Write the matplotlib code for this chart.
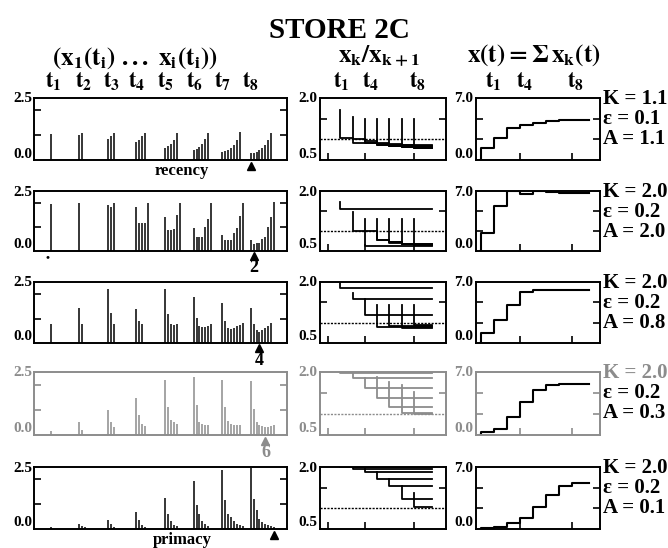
import matplotlib
matplotlib.use("Agg")
import matplotlib.pyplot as plt
import matplotlib.transforms as mtransforms

plt.rcParams['font.family'] = ['Liberation Serif', 'DejaVu Serif']
plt.rcParams['font.weight'] = 'bold'
plt.rcParams['mathtext.fontset'] = 'stix'

W, H = 668, 548

# ---------------- data ----------------
times = [1, 2, 3, 4, 5, 6, 7, 8]
t_labels_col1 = [r"$\mathbf{t_%d}$" % i for i in times]
t_labels_small = [(1, r"$\mathbf{t_1}$"), (4, r"$\mathbf{t_4}$"), (8, r"$\mathbf{t_8}$")]
K_labels = ["1.1", "2.0", "2.0", "2.0", "2.0"]
eps_labels = ["0.1", "0.2", "0.2", "0.2", "0.2"]
A_labels = ["1.1", "2.0", "0.8", "0.3", "0.1"]
row_notes = ["recency", "", "", "", "primacy"]
min_labels = ["", "2", "4", "6", ""]

# column 1: activities x_1..x_i at each presentation time (one group per t_i)
bars_r1 = [[1.05], [1.02, 1.07], [0.85, 0.95, 1.07], [0.72, 0.8, 0.95, 1.1],
           [0.5, 0.55, 0.65, 0.8, 1.07], [0.4, 0.45, 0.53, 0.65, 0.85, 1.1],
           [0.33, 0.36, 0.42, 0.5, 0.62, 0.8, 1.12],
           [0.27, 0.3, 0.34, 0.4, 0.48, 0.6, 0.8, 1.1]]
bars_r2 = [[1.96], [2.0], [1.9, 1.82, 2.0], [1.85, 1.15, 1.18, 1.18, 2.0],
           [1.42, 0.88, 0.88, 0.9, 1.5, 2.0], [0.95, 0.6, 0.6, 0.6, 1.0, 1.35, 2.0],
           [0.68, 0.47, 0.45, 0.45, 0.74, 0.97, 1.46, 2.0],
           [0.47, 0.3, 0.34, 0.34, 0.5, 0.6, 1.0, 1.4, 2.03]]
bars_r3 = [[0.77], [1.45, 0.77], [2.23, 1.22, 0.77], [1.38, 0.9, 0.78],
           [2.2, 1.18, 0.77, 0.75, 0.77], [1.89, 1.04, 0.68, 0.64, 0.64, 0.68, 0.77],
           [1.65, 0.9, 0.61, 0.58, 0.61, 0.68, 0.72, 0.81],
           [1.42, 0.77, 0.54, 0.47, 0.54, 0.61, 0.68, 0.81]]
bars_r4 = [[0.15], [0.5, 0.2], [1.0, 0.5, 0.3], [1.47, 0.8, 0.45, 0.35],
           [2.2, 1.1, 0.6, 0.5, 0.45], [2.3, 1.2, 0.5, 0.42, 0.4, 0.38],
           [2.2, 1.1, 0.55, 0.45, 0.4, 0.38, 0.4],
           [2.15, 1.05, 0.5, 0.4, 0.35, 0.3, 0.32, 0.35, 0.38]]
bars_r5 = [[0.07], [0.2, 0.12, 0.07], [0.37, 0.2, 0.1], [0.7, 0.37, 0.16, 0.1],
           [1.25, 0.6, 0.34, 0.16, 0.12], [1.93, 0.95, 0.6, 0.34, 0.19, 0.12],
           [2.36, 1.18, 0.6, 0.5, 0.34, 0.2, 0.15, 0.12],
           [2.45, 1.22, 0.77, 0.4, 0.3, 0.2, 0.15, 0.12, 0.09]]
bars_rows = [bars_r1, bars_r2, bars_r3, bars_r4, bars_r5]

# column 2: ratios x_k/x_{k+1}, starting at t_{k+1}: initial spike, then values per t
ratio_starts = [2, 3, 4, 5, 6, 7, 8]
ratio_spikes_r1 = [1.70, 1.53, 1.50, 1.48, 1.48, 1.48, 1.48]
ratio_vals_r1 = [[1.04, 0.92, 0.9, 0.88, 0.87, 0.86, 0.86], [1.0, 0.9, 0.87, 0.85, 0.84, 0.84],
                 [0.95, 0.86, 0.83, 0.82, 0.82], [0.9, 0.83, 0.81, 0.8], [0.88, 0.81, 0.8],
                 [0.86, 0.8], [0.84]]
ratio_spikes_r2 = [1.73, 1.48, 1.29, 1.29, 1.29, 1.29, 1.29]
ratio_vals_r2 = [[1.56] * 7, [0.99, 0.99, 0.77, 0.7, 0.68, 0.68], [0.62] * 5,
                 [0.77, 0.72, 0.68, 0.67], [0.72, 0.67, 0.66], [0.68, 0.66], [0.66]]
ratio_spikes_r3 = [2.0, 1.74, 1.57, 1.43, 1.43, 1.43, 1.43]
ratio_vals_r3 = [[1.85] * 7, [1.57] * 6, [1.2] * 5, [0.9, 0.9, 0.88, 0.88],
                 [0.92, 0.9, 0.9], [0.93, 0.92], [0.94]]
ratio_spikes_r4 = [1.99, 1.99, 1.86, 1.88, 1.76, 1.69, 1.52]
ratio_vals_r4 = [[1.98] * 7, [1.86] * 6, [1.62] * 5, [1.38] * 4, [1.17] * 3, [1.03] * 2, [1.0]]
ratio_spikes_r5 = [2.0, 2.0, 1.96, 1.88, 1.72, 1.55, 1.38]
ratio_vals_r5 = [[1.99] * 7, [1.96] * 6, [1.88] * 5, [1.72] * 4, [1.55] * 3, [1.22] * 2, [1.03]]
ratio_spikes = [ratio_spikes_r1, ratio_spikes_r2, ratio_spikes_r3, ratio_spikes_r4, ratio_spikes_r5]
ratio_vals = [ratio_vals_r1, ratio_vals_r2, ratio_vals_r3, ratio_vals_r4, ratio_vals_r5]

# column 3: total activity x(t) at t1..t8
sum_r1 = [1.3, 2.5, 3.6, 3.9, 4.2, 4.4, 4.5, 4.5]
sum_r2 = [2.1, 5.2, 7.0, 6.6, 6.95, 6.85, 6.8, 6.8]
sum_r3 = [1.2, 2.6, 4.4, 5.9, 6.1, 6.1, 6.1, 6.1]
sum_r4 = [0.3, 0.7, 2.0, 3.7, 5.0, 5.6, 5.7, 5.7]
sum_r5 = [0.1, 0.2, 0.67, 1.2, 2.5, 3.8, 4.9, 5.2]
sum_rows = [sum_r1, sum_r2, sum_r3, sum_r4, sum_r5]

# ---------------- layout ----------------
col_x = [(34, 287), (320, 446), (476, 600)]
row_y = [(98, 160), (191, 251), (282, 343), (372, 435), (467, 529)]
row_colors = ["black", "black", "black", "#8c8c8c", "black"]
BAR_STEP = 0.105
END2 = 9.45
END3 = 9.35

fig = plt.figure(figsize=(W / 100, H / 100), dpi=100)


def fx(px):
    return px / W


def fy(py):
    return 1 - py / H


def add_ax(cx, ry):
    x0, x1 = cx
    y0, y1 = ry
    return fig.add_axes([fx(x0), fy(y1), (x1 - x0) / W, (y1 - y0) / H])


def style(ax, color):
    for sp in ax.spines.values():
        sp.set_linewidth(1.4)
        sp.set_color(color)
    ax.tick_params(direction='in', length=5, width=1.2, color=color,
                   labelleft=False, labelbottom=False, left=True, right=True,
                   bottom=True, top=False)


# title and headers
fig.text(fx(339), fy(30), "STORE 2C", ha='center', va='center', fontsize=21,
         fontweight='bold')
fig.text(fx(135), fy(58), r"$\mathbf{(x_1(t_i)\ ...\ x_i(t_i))}$", ha='center',
         va='center', fontsize=18)
fig.text(fx(379), fy(56), r"$\mathbf{x_k/x_{k+1}}$", ha='center', va='center', fontsize=18)
fig.text(fx(534), fy(55), r"$\mathbf{x(t) = \Sigma\,x_k(t)}$", ha='center', va='center',
         fontsize=18)

# time labels
col1_t_px = [53, 84, 112, 137, 166, 195, 223, 251]
for px, lab in zip(col1_t_px, t_labels_col1):
    fig.text(fx(px), fy(82), lab, ha='center', va='center', fontsize=16)
for px, (t, lab) in zip([341, 371, 418], t_labels_small):
    fig.text(fx(px), fy(82), lab, ha='center', va='center', fontsize=16)
for px, (t, lab) in zip([493, 525, 576], t_labels_small):
    fig.text(fx(px), fy(82), lab, ha='center', va='center', fontsize=16)

for r in range(5):
    color = row_colors[r]
    ry = row_y[r]
    top, bot = ry

    # ---- column 1: bars ----
    ax1 = add_ax(col_x[0], ry)
    style(ax1, color)
    for gi, group in zip(times, bars_rows[r]):
        xs = [gi + j * BAR_STEP for j in range(len(group))]
        ax1.vlines(xs, 0, group, colors=color, linewidth=1.1)
    ax1.set_xlim(0.404, 9.28)
    ax1.set_ylim(0, 2.5)
    ax1.set_yticks([1.0, 2.0])
    ax1.set_xticks([])
    last = bars_rows[r][-1]
    imin = last.index(min(last))
    xmin = times[-1] + imin * BAR_STEP
    trans = mtransforms.blended_transform_factory(ax1.transData, ax1.transAxes)
    ax1.plot([xmin], [-0.09], marker='^', ms=6, color=color, transform=trans,
             clip_on=False)
    if min_labels[r]:
        ax1.text(xmin, -0.28, min_labels[r], transform=trans, ha='center', va='center',
                 fontsize=13, color=color)
    fig.text(fx(32), fy(top + 1), "2.5", ha='right', va='center', fontsize=11, color=color)
    fig.text(fx(32), fy(bot - 6), "0.0", ha='right', va='center', fontsize=11, color=color)

    # ---- column 2: ratios ----
    ax2 = add_ax(col_x[1], ry)
    style(ax2, color)
    ax2.axhline(1.0, color=color, linewidth=1.0, linestyle=(0, (1.5, 1.0)))
    for s, spike, vals in zip(ratio_starts, ratio_spikes[r], ratio_vals[r]):
        xs = [s] + [s + i for i in range(len(vals))] + [END2]
        ys = [spike] + list(vals) + [vals[-1]]
        ax2.plot(xs, ys, drawstyle='steps-post', color=color, linewidth=1.3)
    ax2.set_xlim(0.35, 10.6)
    ax2.set_ylim(0.5, 2.0)
    ax2.set_yticks([1.5])
    ax2.set_xticks([t for t, _ in t_labels_small])
    fig.text(fx(317), fy(top + 1), "2.0", ha='right', va='center', fontsize=11, color=color)
    fig.text(fx(317), fy(bot - 6), "0.5", ha='right', va='center', fontsize=11, color=color)

    # ---- column 3: total activity ----
    ax3 = add_ax(col_x[2], ry)
    style(ax3, color)
    xs = [0.9] + times + [END3]
    ys = [0.0] + sum_rows[r] + [sum_rows[r][-1]]
    ax3.plot(xs, ys, drawstyle='steps-post', color='black', linewidth=1.5)
    ax3.set_xlim(0.62, 10.16)
    ax3.set_ylim(0, 7.0)
    ax3.set_yticks([7 / 3, 14 / 3])
    ax3.set_xticks([4, 8])
    fig.text(fx(473), fy(top + 1), "7.0", ha='right', va='center', fontsize=11, color=color)
    fig.text(fx(473), fy(bot - 6), "0.0", ha='right', va='center', fontsize=11, color=color)

    # parameter labels
    fig.text(fx(603), fy(top + 1), "K = " + K_labels[r], ha='left', va='center',
             fontsize=15, color=color)
    fig.text(fx(603), fy(top + 21), "\u03b5 = " + eps_labels[r], ha='left', va='center',
             fontsize=15)
    fig.text(fx(603), fy(top + 41), "A = " + A_labels[r], ha='left', va='center',
             fontsize=15)

    if row_notes[r]:
        fig.text(fx(182), fy(bot + 11), row_notes[r], ha='center', va='center',
                 fontsize=12)

# small stray dot below second row
fig.text(fx(47), fy(258), "\u2022", ha='center', va='center', fontsize=8)

fig.savefig("out.png", dpi=100)
